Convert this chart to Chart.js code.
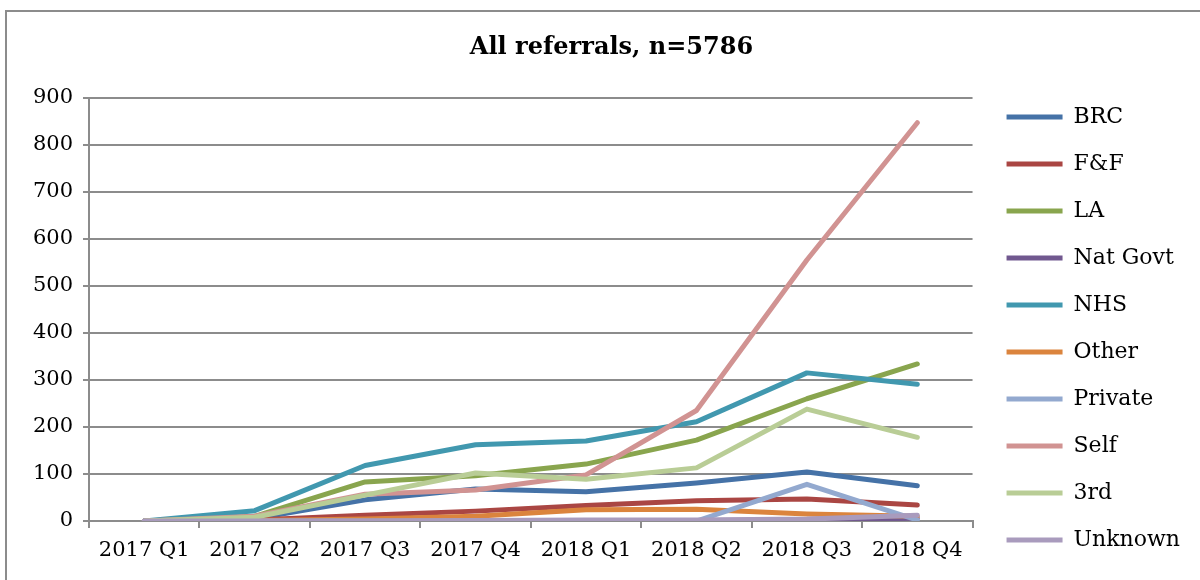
<!DOCTYPE html>
<html>
<head>
<meta charset="utf-8">
<script src="https://cdn.jsdelivr.net/npm/chart.js@4.4.1/dist/chart.umd.min.js"></script>
<style>
  html, body { margin: 0; padding: 0; background: #fff; }
  #wrap { position: relative; width: 1200px; height: 580px; overflow: hidden; }
  #frame { position: absolute; left: 5px; top: 10px; width: 1300px; height: 700px; border: 2px solid #8c8c8c; box-sizing: border-box; }
  canvas { position: absolute; left: 0; top: 0; }
</style>
</head>
<body>
<div id="wrap">
  <div id="frame"></div>
  <canvas id="chart" width="1200" height="580"></canvas>
</div>
<script>
// Data
const quarters = ["2017 Q1", "2017 Q2", "2017 Q3", "2017 Q4", "2018 Q1", "2018 Q2", "2018 Q3", "2018 Q4"];
const brc = [0, 5, 45, 68, 62, 81, 104, 75];
const friendsFamily = [0, 2, 12, 21, 33, 43, 47, 34];
const la = [0, 10, 83, 96, 121, 172, 260, 334];
const natGovt = [0, 0, 0, 0, 1, 1, 2, 6];
const nhs = [0, 22, 118, 162, 170, 211, 315, 291];
const other = [0, 1, 4, 10, 24, 25, 15, 10];
const privateRef = [0, 0, 0, 0, 0, 0, 78, 2];
const self = [0, 10, 57, 66, 98, 235, 555, 847];
const third = [0, 8, 55, 102, 89, 113, 238, 178];
const unknown = [0, 0, 0, 1, 2, 2, 4, 12];

const seriesNames = ["BRC", "F&F", "LA", "Nat Govt", "NHS", "Other", "Private", "Self", "3rd", "Unknown"];
const seriesValues = [brc, friendsFamily, la, natGovt, nhs, other, privateRef, self, third, unknown];
const seriesColors = ["#4572A7", "#AA4643", "#89A54E", "#71588F", "#4198AF", "#DB843D", "#93A9CF", "#D19392", "#B9CD96", "#A99BBD"];

const FONT = "'DejaVu Serif', serif";
const GRID = "#8c8c8c";

// Excel draws the last series on top
const datasets = seriesNames.map((name, i) => ({
  label: name,
  data: seriesValues[i],
  borderColor: seriesColors[i],
  backgroundColor: seriesColors[i],
  borderWidth: 5,
  pointRadius: 0,
  tension: 0,
  borderCapStyle: "round",
  borderJoinStyle: "round",
  order: -i,
}));

// nudge legend and title to where Excel puts them
const boxNudge = {
  id: "boxNudge",
  afterLayout(chart) {
    const lg = chart.legend;
    lg.left += 9;
    lg.right += 9;
    lg.top -= 4;
    lg.bottom -= 4;
    const t = chart.titleBlock;
    t.left += 21;
    t.right += 21;
  },
};

new Chart(document.getElementById("chart"), {
  type: "line",
  data: { labels: quarters, datasets },
  plugins: [boxNudge],
  options: {
    responsive: false,
    animation: false,
    layout: { padding: { left: 0, right: 19, top: 0, bottom: 0 } },
    plugins: {
      tooltip: { enabled: false },
      title: {
        display: true,
        text: "All referrals, n=5786",
        color: "#000",
        font: { family: FONT, size: 24, weight: "bold" },
        padding: { top: 33, bottom: 36 },
      },
      legend: {
        position: "right",
        align: "end",
        labels: {
          sort: (a, b) => a.datasetIndex - b.datasetIndex,
          usePointStyle: true,
          pointStyle: "line",
          pointStyleWidth: 56,
          padding: 25,
          color: "#000",
          font: { family: FONT, size: 22 },
        },
      },
    },
    scales: {
      x: {
        offset: true,
        afterFit: (scale) => { scale.height = 59; },
        grid: { offset: true, drawOnChartArea: false, color: GRID, lineWidth: 2, tickLength: 7 },
        border: { color: GRID, width: 2 },
        ticks: { color: "#000", font: { family: FONT, size: 21 }, autoSkip: false, maxRotation: 0, padding: 10 },
      },
      y: {
        min: 0,
        max: 900,
        afterFit: (scale) => { scale.width = 89; },
        grid: { color: GRID, lineWidth: 2, tickLength: 6 },
        border: { color: GRID, width: 2 },
        ticks: { stepSize: 100, color: "#000", font: { family: FONT, size: 21 }, padding: 10 },
      },
    },
  },
});
</script>
</body>
</html>
